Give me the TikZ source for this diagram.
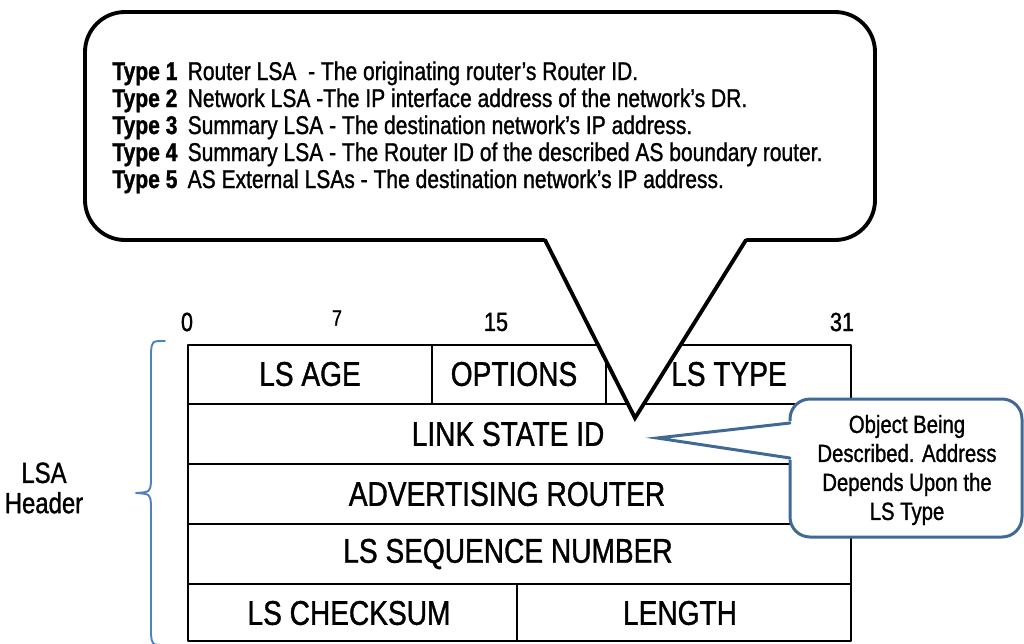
\documentclass[tikz,border=0pt]{standalone}
\usepackage{fontspec}
\setmainfont[FakeStretch=0.82, FakeBold=1.1]{Liberation Sans}
\definecolor{bracecol}{RGB}{79,129,189}
\definecolor{notecol}{RGB}{65,105,150}
\begin{document}
\begin{tikzpicture}[x=0.02cm, y=-0.02cm, line join=round, line cap=round,
	field/.style={font=\fontsize{19.5}{22}\selectfont},
	bitno/.style={font=\fontsize{15}{17}\selectfont},
	typeline/.style={anchor=base west, inner sep=0pt, font=\fontsize{14.6}{17}\selectfont},
	note/.style={align=center, font=\fontsize{14.1}{16.5}\selectfont}]
	\useasboundingbox (0,0) rectangle (1024,643);
			% header table
			\draw[line width=1.4pt] (188,345) rectangle (851,641);
			\foreach \y in {404,464,524,584} \draw[line width=1.4pt] (188,\y)--(851,\y);
			\draw[line width=1.4pt] (432,345)--(432,404) (606,345)--(606,404) (517,584)--(517,641);
			\foreach \p/\x/\y/\t in {age/310/374/LS AGE, opt/514/374/OPTIONS, lstype/729/374/LS TYPE,
				lsid/508/434/LINK STATE ID, adv/507/494/ADVERTISING ROUTER, seq/508/554/LS SEQUENCE NUMBER,
				sum/349/613/LS CHECKSUM, len/680/613/LENGTH}
				\node[field] (\p) at (\x,\y) {\t};
			\foreach \t/\x in {0/187,15/496,31/842} \node[bitno] (b\t) at (\x,322) {\t};
			\node[font=\fontsize{12.5}{14}\selectfont] (b7) at (337,318) {7};
			% brace
			\draw[bracecol, line width=1.1pt] (165,341) .. controls (152,341) .. (151,352) -- (151,482)
				.. controls (150,492) .. (136,493) .. controls (150,494) .. (151,504) -- (151,634)
				.. controls (152,645) .. (165,645);
			\node[align=center, font=\fontsize{16.6}{17.2}\selectfont] (hdr) at (44,488) {LSA\\Header};
			% LS type callout
			\draw[line width=2.2pt, rounded corners=0.8cm, fill=white] (85,12) rectangle (875,240);
			\fill[white] (543,236)--(635,418)--(748,236)--cycle;
			\draw[line width=2.2pt, line join=miter] (545,240)--(635,418)--(746,240);
			\foreach \n/\y/\t in {1/80/{Router LSA\ \ - The originating router’s Router ID.},
				2/107/{Network LSA -The IP interface address of the network’s DR.},
				3/134/{Summary LSA\ - The destination network’s IP address.},
				4/161/{Summary LSA\ - The Router ID of the described AS boundary router.},
				5/188/{AS External LSAs\ - The destination network’s IP address.}}
				\node[typeline] (type\n) at (112,\y) {\textbf{Type \n}\hspace{0.4em}\t};
			% link state id callout
			\draw[notecol, line width=1.7pt, rounded corners=0.4cm, fill=white] (790,399) rectangle (1022,537);
			\fill[white] (793,421)--(657,438)--(793,460)--cycle;
			\draw[notecol, line width=1.7pt, line join=miter] (790,423)--(657,438)--(790,458);
			\node[note] (obj) at (907,470) {Object Being\\Described. Address\\Depends Upon the\\LS Type};
\end{tikzpicture}
\end{document}
